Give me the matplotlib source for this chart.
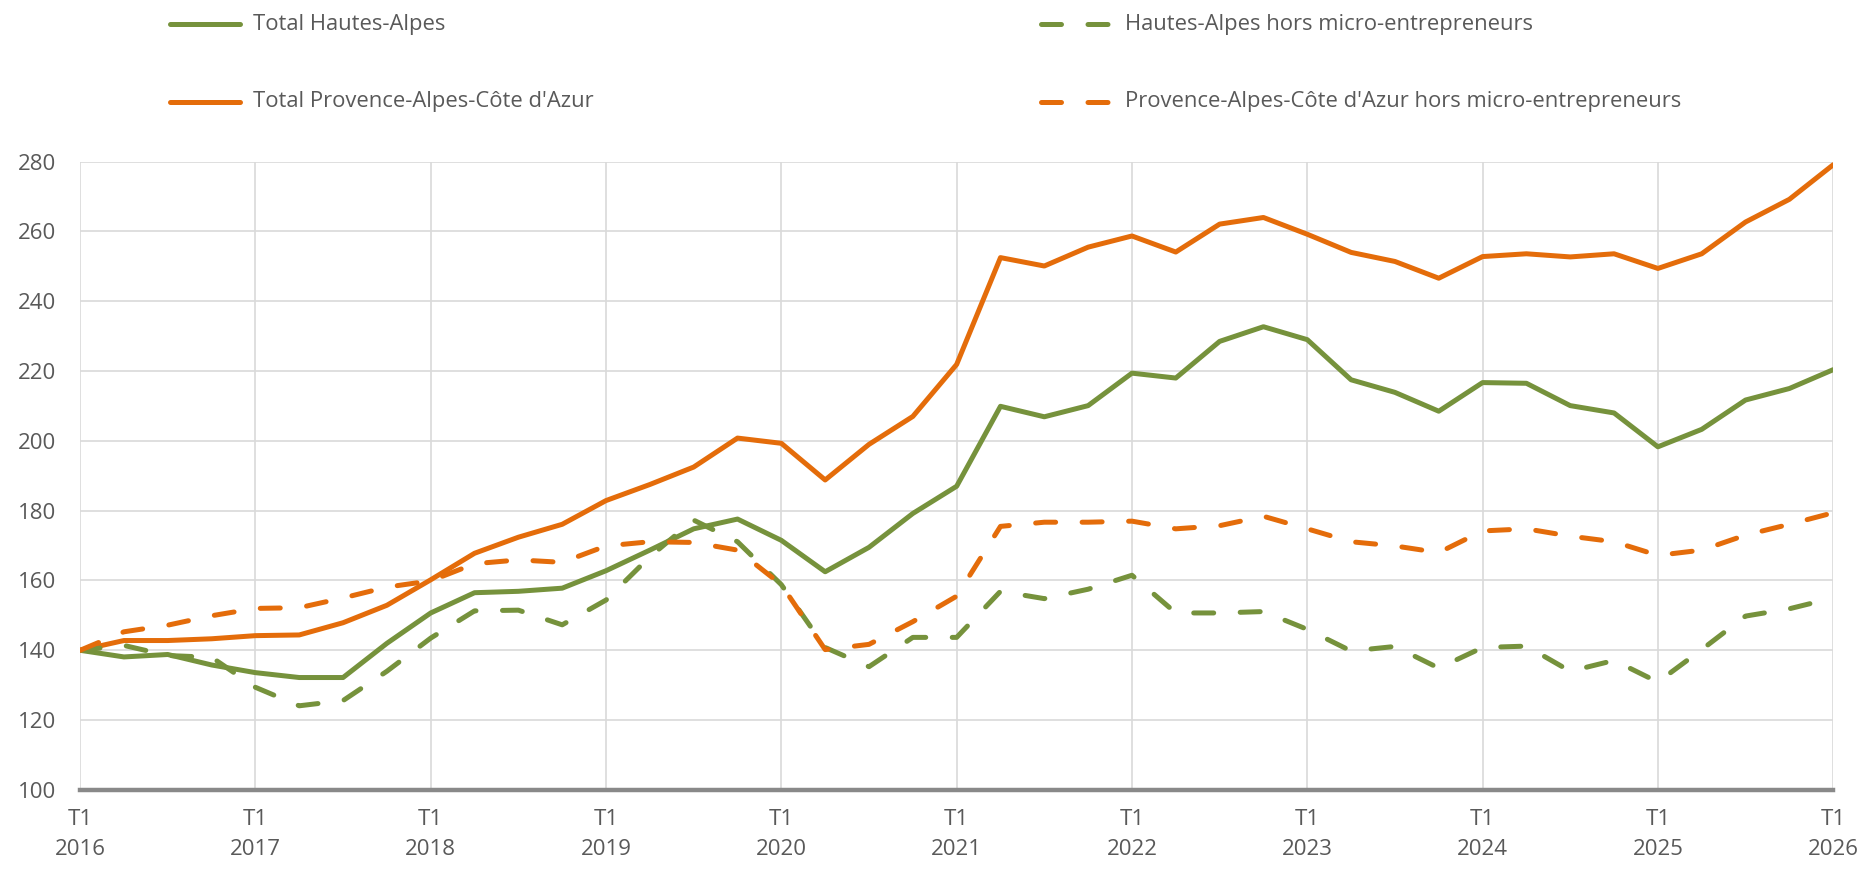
import matplotlib.pyplot as plt
from matplotlib.lines import Line2D

plt.rcParams['font.family'] = ['Open Sans', 'DejaVu Sans']

# indices trimestriels, base 140 au T1 2016 (T1 2016 -> T1 2026)
total_ha = [140.0, 138.1, 138.8, 135.8, 133.6, 132.2, 132.2, 142.0, 150.7, 156.5,
            156.9, 157.8, 162.8, 168.7, 174.8, 177.6, 171.5, 162.5, 169.5, 179.2,
            187.0, 209.9, 206.9, 210.1, 219.4, 218.0, 228.5, 232.7, 229.0, 217.5,
            213.9, 208.5, 216.7, 216.5, 210.1, 208.0, 198.3, 203.3, 211.7, 215.0,
            220.4]
total_paca = [140.0, 142.8, 142.8, 143.3, 144.2, 144.4, 147.9, 152.9, 160.2, 167.8,
              172.4, 176.1, 182.9, 187.5, 192.5, 200.8, 199.3, 188.8, 199.0, 207.0,
              221.9, 252.5, 250.1, 255.5, 258.7, 254.1, 262.1, 264.0, 259.2, 254.0,
              251.4, 246.6, 252.8, 253.6, 252.7, 253.6, 249.4, 253.6, 262.7, 269.2,
              279.1]
ha_hors = [140.0, 141.4, 138.5, 138.0, 129.4, 124.1, 125.6, 134.0, 143.5, 151.3,
           151.5, 147.3, 154.4, 166.8, 177.3, 171.1, 158.8, 140.8, 135.3, 143.7,
           143.7, 156.9, 154.8, 157.5, 161.5, 150.7, 150.7, 151.1, 146.0, 139.8,
           141.1, 134.9, 140.8, 141.2, 134.0, 137.1, 130.9, 140.2, 149.8, 151.9,
           155.0]
paca_hors = [140.0, 145.3, 147.2, 149.9, 152.0, 152.2, 155.0, 158.1, 159.9, 164.8,
             165.9, 165.2, 169.9, 171.1, 170.9, 168.7, 158.8, 140.2, 141.7, 148.2,
             155.5, 175.5, 176.7, 176.7, 177.0, 174.8, 175.7, 178.4, 174.8, 171.1,
             169.9, 168.0, 174.2, 174.8, 172.7, 171.1, 167.2, 168.7, 173.0, 176.1,
             179.4]
years = list(range(2016, 2027))

green = '#76923C'
orange = '#E46C0A'
text_col = '#595959'
lw = 3.6
dash = (0, (4.0, 5.3))

fig = plt.figure(figsize=(18.63, 8.69), dpi=100)
ax = fig.add_axes([0.043, 0.091, 0.941, 0.723])

x = list(range(len(total_ha)))
ax.plot(x, total_ha, color=green, lw=lw, solid_capstyle='round', solid_joinstyle='round')
ax.plot(x, total_paca, color=orange, lw=lw, solid_capstyle='round', solid_joinstyle='round')
ax.plot(x, ha_hors, color=green, lw=lw, linestyle=dash, dash_capstyle='round')
ax.plot(x, paca_hors, color=orange, lw=lw, linestyle=dash, dash_capstyle='round')

ax.set_xlim(0, 40)
ax.set_ylim(100, 280)
ax.set_yticks(range(100, 281, 20))
ax.set_xticks([4 * i for i in range(len(years))])
ax.set_xticklabels(['T1\n%d' % y for y in years], linespacing=1.55)

ax.grid(True, color='#D9D9D9', lw=1.2)
ax.set_axisbelow(True)
for s in ['top', 'right', 'left']:
    ax.spines[s].set_visible(False)
ax.spines['bottom'].set_color('#898989')
ax.spines['bottom'].set_linewidth(3.2)
ax.tick_params(axis='both', length=0, labelsize=16, colors=text_col)
ax.tick_params(axis='y', pad=17)
ax.tick_params(axis='x', pad=14)

# légende en haut, sur deux colonnes
entries = [
    ('Total Hautes-Alpes', green, '-', 0.091, 0.972),
    ('Total Provence-Alpes-Côte d\'Azur', orange, '-', 0.091, 0.883),
    ('Hautes-Alpes hors micro-entrepreneurs', green, dash, 0.559, 0.972),
    ('Provence-Alpes-Côte d\'Azur hors micro-entrepreneurs', orange, dash, 0.559, 0.883),
]
for label, col, ls, lx, ly in entries:
    fig.add_artist(Line2D([lx, lx + 0.038], [ly, ly], color=col, lw=lw, linestyle=ls,
                          solid_capstyle='round', dash_capstyle='round',
                          transform=fig.transFigure))
    fig.text(lx + 0.045, ly, label, fontsize=15.8, color=text_col, va='center', ha='left')

fig.savefig('out.png', dpi=100)
